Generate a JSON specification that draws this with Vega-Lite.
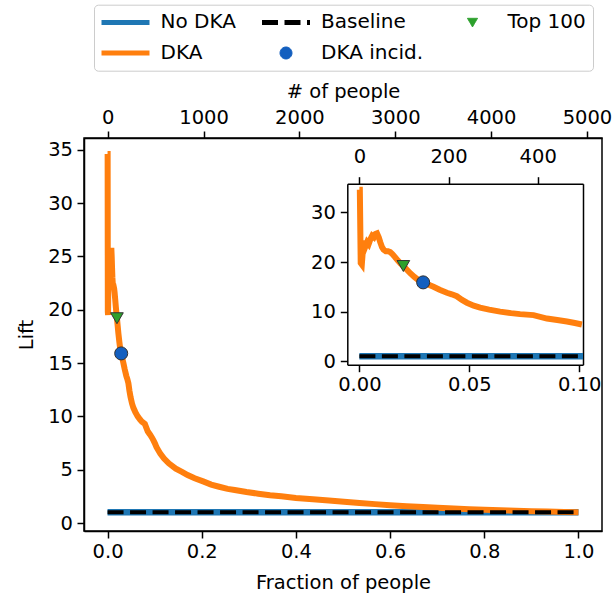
{
  "$schema": "https://vega.github.io/schema/vega-lite/v6.json",
  "width": 518,
  "height": 393,
  "autosize": {"type": "none"},
  "padding": {"left": 84, "top": 138, "right": 11, "bottom": 65},
  "background": "white",
  "config": {
    "font": "DejaVu Sans",
    "view": {"stroke": "#000", "strokeWidth": 1.5},
    "axis": {
      "labelFont": "DejaVu Sans", "labelFontSize": 19.5, "labelColor": "#000",
      "titleFont": "DejaVu Sans", "titleFontSize": 19.5, "titleFontWeight": "normal", "titleColor": "#000",
      "domainColor": "#000", "domainWidth": 1.5, "tickColor": "#000", "tickWidth": 1.5, "tickSize": 7,
      "labelPadding": 4, "grid": false, "labelFlush": false, "labelOverlap": false, "titlePadding": 9
    },
    "legend": {"labelFont": "DejaVu Sans", "labelFontSize": 20, "labelColor": "#000"}
  },
  "datasets": {
    "dka": [
      {"frac": 0, "lift": 34.6}, {"frac": 0.0002, "lift": 34.6}, {"frac": 0.0006, "lift": 19.8},
      {"frac": 0.0011, "lift": 19.5}, {"frac": 0.0016, "lift": 22.5}, {"frac": 0.0022, "lift": 24.3},
      {"frac": 0.0028, "lift": 23.2}, {"frac": 0.0035, "lift": 24.0}, {"frac": 0.0042, "lift": 23.6},
      {"frac": 0.005, "lift": 24.6}, {"frac": 0.0058, "lift": 25.3}, {"frac": 0.0066, "lift": 25.0},
      {"frac": 0.0074, "lift": 25.7}, {"frac": 0.008, "lift": 25.8}, {"frac": 0.0088, "lift": 25.0},
      {"frac": 0.0095, "lift": 24.0}, {"frac": 0.0103, "lift": 23.0}, {"frac": 0.011, "lift": 22.5},
      {"frac": 0.012, "lift": 22.2}, {"frac": 0.013, "lift": 22.2}, {"frac": 0.014, "lift": 22.0},
      {"frac": 0.015, "lift": 21.6}, {"frac": 0.0162, "lift": 21.0}, {"frac": 0.0175, "lift": 20.3},
      {"frac": 0.019, "lift": 19.6}, {"frac": 0.02, "lift": 19.2}, {"frac": 0.0215, "lift": 18.5},
      {"frac": 0.023, "lift": 17.8}, {"frac": 0.025, "lift": 17.0}, {"frac": 0.027, "lift": 16.3},
      {"frac": 0.029, "lift": 15.9}, {"frac": 0.031, "lift": 15.5}, {"frac": 0.0337, "lift": 15.0},
      {"frac": 0.0365, "lift": 14.4}, {"frac": 0.0398, "lift": 13.8}, {"frac": 0.042, "lift": 13.5},
      {"frac": 0.0443, "lift": 13.1}, {"frac": 0.0465, "lift": 12.4}, {"frac": 0.0489, "lift": 11.8},
      {"frac": 0.052, "lift": 11.2}, {"frac": 0.0549, "lift": 10.8}, {"frac": 0.059, "lift": 10.4},
      {"frac": 0.064, "lift": 10.0}, {"frac": 0.069, "lift": 9.7}, {"frac": 0.0731, "lift": 9.5},
      {"frac": 0.0792, "lift": 9.3}, {"frac": 0.0853, "lift": 8.6}, {"frac": 0.09, "lift": 8.3},
      {"frac": 0.0944, "lift": 8.0}, {"frac": 0.098, "lift": 7.7}, {"frac": 0.1012, "lift": 7.4},
      {"frac": 0.104, "lift": 7.1}, {"frac": 0.112, "lift": 6.5}, {"frac": 0.12, "lift": 6.05},
      {"frac": 0.13, "lift": 5.6}, {"frac": 0.145, "lift": 5.1}, {"frac": 0.158, "lift": 4.8},
      {"frac": 0.17, "lift": 4.5}, {"frac": 0.185, "lift": 4.2}, {"frac": 0.203, "lift": 3.9},
      {"frac": 0.22, "lift": 3.6}, {"frac": 0.237, "lift": 3.4}, {"frac": 0.255, "lift": 3.2},
      {"frac": 0.27, "lift": 3.1}, {"frac": 0.295, "lift": 2.9}, {"frac": 0.32, "lift": 2.75},
      {"frac": 0.345, "lift": 2.6}, {"frac": 0.369, "lift": 2.5}, {"frac": 0.4, "lift": 2.35},
      {"frac": 0.436, "lift": 2.22}, {"frac": 0.47, "lift": 2.1}, {"frac": 0.502, "lift": 1.99},
      {"frac": 0.535, "lift": 1.87}, {"frac": 0.568, "lift": 1.77}, {"frac": 0.6, "lift": 1.67},
      {"frac": 0.635, "lift": 1.58}, {"frac": 0.67, "lift": 1.5}, {"frac": 0.701, "lift": 1.43},
      {"frac": 0.735, "lift": 1.36}, {"frac": 0.768, "lift": 1.3}, {"frac": 0.8, "lift": 1.25},
      {"frac": 0.851, "lift": 1.18}, {"frac": 0.9, "lift": 1.11}, {"frac": 0.934, "lift": 1.07},
      {"frac": 0.97, "lift": 1.03}, {"frac": 1.0, "lift": 1.0}
    ],
    "flat": [
      {"series": "No DKA", "frac": 0, "lift": 1}, {"series": "No DKA", "frac": 0.1017, "lift": 1}, {"series": "No DKA", "frac": 1, "lift": 1},
      {"series": "Baseline", "frac": 0, "lift": 1}, {"series": "Baseline", "frac": 0.1017, "lift": 1}, {"series": "Baseline", "frac": 1, "lift": 1}
    ],
    "pts": [
      {"series": "Top 100", "frac": 0.02, "lift": 19.2},
      {"series": "DKA incid.", "frac": 0.029, "lift": 15.9}
    ],
    "pplMain": [{"n": 0}, {"n": 5000}],
    "pplInset": [{"n": 0}, {"n": 400}]
  },
  "resolve": {"scale": {"x": "independent", "y": "independent"}, "axis": {"x": "independent", "y": "independent"}},
  "layer": [
    {
      "encoding": {
        "x": {"field": "frac", "type": "quantitative", "scale": {"domain": [-0.05, 1.05], "nice": false, "zero": false},
              "axis": {"title": "Fraction of people", "values": [0, 0.2, 0.4, 0.6, 0.8, 1.0], "format": ".1f", "titlePadding": 13}},
        "y": {"field": "lift", "type": "quantitative", "scale": {"domain": [-0.75, 36.1], "nice": false, "zero": false},
              "axis": {"title": "Lift", "values": [0, 5, 10, 15, 20, 25, 30, 35], "labelPadding": 4.5, "titlePadding": 11}},
        "color": {"field": "series", "type": "nominal",
                  "scale": {"domain": ["No DKA", "DKA", "Baseline", "DKA incid.", "Top 100"],
                            "range": ["#1f77b4", "#ff7f0e", "#000000", "#135fbf", "#2ca02c"]}}
      },
      "layer": [
        {"data": {"name": "flat"}, "transform": [{"filter": "datum.series === 'No DKA'"}],
         "mark": {"type": "line", "strokeWidth": 6.5},
         "encoding": {"color": {"field": "series", "type": "nominal",
           "legend": {
             "title": null, "orient": "none", "legendX": 10, "legendY": -133.3, "direction": "vertical",
             "columns": 3, "columnPadding": 24.5, "rowPadding": 8.6, "clipHeight": 22,
             "padding": 6.7, "strokeColor": "#cccccc", "fillColor": "#ffffff", "cornerRadius": 4,
             "symbolOffset": 14.8, "labelOffset": 25, "labelBaseline": "middle",
             "symbolStrokeWidth": 5, "symbolType": "stroke", "labelLimit": 300,
             "encode": {"symbols": {"update": {
               "shape": {"signal": "datum.value === 'Top 100' ? 'M-0.21,-0.17L0.21,-0.17L0,0.19Z' : datum.value === 'DKA incid.' ? 'M0.25,0A0.25,0.25,0,1,1,-0.25,0A0.25,0.25,0,1,1,0.25,0Z' : 'stroke'"},
               "fill": {"signal": "datum.value === 'Top 100' ? '#2ca02c' : datum.value === 'DKA incid.' ? '#135fbf' : 'transparent'"},
               "stroke": {"signal": "datum.value === 'No DKA' ? '#1f77b4' : datum.value === 'DKA' ? '#ff7f0e' : datum.value === 'Baseline' ? '#000000' : '#333333'"},
               "strokeWidth": {"signal": "datum.value === 'Top 100' || datum.value === 'DKA incid.' ? 1 : 5"},
               "strokeDash": {"signal": "datum.value === 'Baseline' ? [16, 6.5] : [1, 0]"},
               "size": {"value": 2304},
               "opacity": {"value": 1}
             }}}
           }}}},
        {"data": {"name": "dka"}, "transform": [{"calculate": "'DKA'", "as": "series"}],
         "mark": {"type": "line", "strokeWidth": 6}},
        {"data": {"name": "flat"}, "transform": [{"filter": "datum.series === 'Baseline'"}],
         "mark": {"type": "line", "strokeWidth": 4, "strokeDash": [16, 6.5]}},
        {"data": {"name": "pts"}, "transform": [{"filter": "datum.series === 'Top 100'"}],
         "mark": {"type": "point", "shape": "triangle-down", "filled": true, "size": 160, "stroke": "#333333", "strokeWidth": 1, "opacity": 1}},
        {"data": {"name": "pts"}, "transform": [{"filter": "datum.series === 'DKA incid.'"}],
         "mark": {"type": "point", "shape": "circle", "filled": true, "size": 170, "stroke": "#333333", "strokeWidth": 1, "opacity": 1}}
      ]
    },
    {
      "data": {"name": "pplMain"},
      "mark": {"type": "point", "opacity": 0},
      "encoding": {
        "x": {"field": "n", "type": "quantitative", "scale": {"domain": [-247, 5157], "nice": false, "zero": false},
              "axis": {"orient": "top", "title": "# of people", "values": [0, 1000, 2000, 3000, 4000, 5000], "format": "d", "titlePadding": 6}}
      }
    },
    {
      "encoding": {
        "x": {"field": "frac", "type": "quantitative",
              "scale": {"domain": [-0.0055, 0.1017], "range": [263.3, 499], "nice": false, "zero": false},
              "axis": {"orient": "bottom", "offset": -166.3, "title": null, "values": [0, 0.05, 0.1], "format": ".2f"}},
        "y": {"field": "lift", "type": "quantitative",
              "scale": {"domain": [-0.7, 35.8], "range": [226.7, 45.7], "nice": false, "zero": false},
              "axis": {"orient": "left", "offset": -263.3, "title": null, "values": [0, 10, 20, 30], "labelPadding": 5}}
      },
      "layer": [
        {"data": {"name": "flat"}, "transform": [{"filter": "datum.series === 'No DKA' && datum.frac <= 0.1018"}],
         "mark": {"type": "line", "strokeWidth": 6.5, "color": "#1f77b4"}},
        {"data": {"name": "dka"}, "transform": [{"filter": "datum.frac <= 0.1018"}],
         "mark": {"type": "line", "strokeWidth": 6, "color": "#ff7f0e"}},
        {"data": {"name": "flat"}, "transform": [{"filter": "datum.series === 'Baseline' && datum.frac <= 0.1018"}],
         "mark": {"type": "line", "strokeWidth": 4, "strokeDash": [16, 6.5], "color": "#000000"}},
        {"data": {"name": "pts"}, "transform": [{"filter": "datum.series === 'Top 100'"}],
         "mark": {"type": "point", "shape": "triangle-down", "filled": true, "size": 160, "color": "#2ca02c", "stroke": "#333333", "strokeWidth": 1, "opacity": 1}},
        {"data": {"name": "pts"}, "transform": [{"filter": "datum.series === 'DKA incid.'"}],
         "mark": {"type": "point", "shape": "circle", "filled": true, "size": 170, "color": "#135fbf", "stroke": "#333333", "strokeWidth": 1, "opacity": 1}}
      ]
    },
    {
      "data": {"name": "pplInset"},
      "mark": {"type": "point", "opacity": 0},
      "encoding": {
        "x": {"field": "n", "type": "quantitative",
              "scale": {"domain": [-27, 501.6], "range": [263.3, 499], "nice": false, "zero": false},
              "axis": {"orient": "top", "offset": -45.7, "title": null, "values": [0, 200, 400], "labelPadding": 10}},
        "y": {"field": "n", "type": "quantitative",
              "scale": {"domain": [0, 400], "range": [226.7, 45.7], "nice": false, "zero": false},
              "axis": {"orient": "right", "offset": -19, "title": null, "labels": false, "ticks": false}}
      }
    }
  ]
}
